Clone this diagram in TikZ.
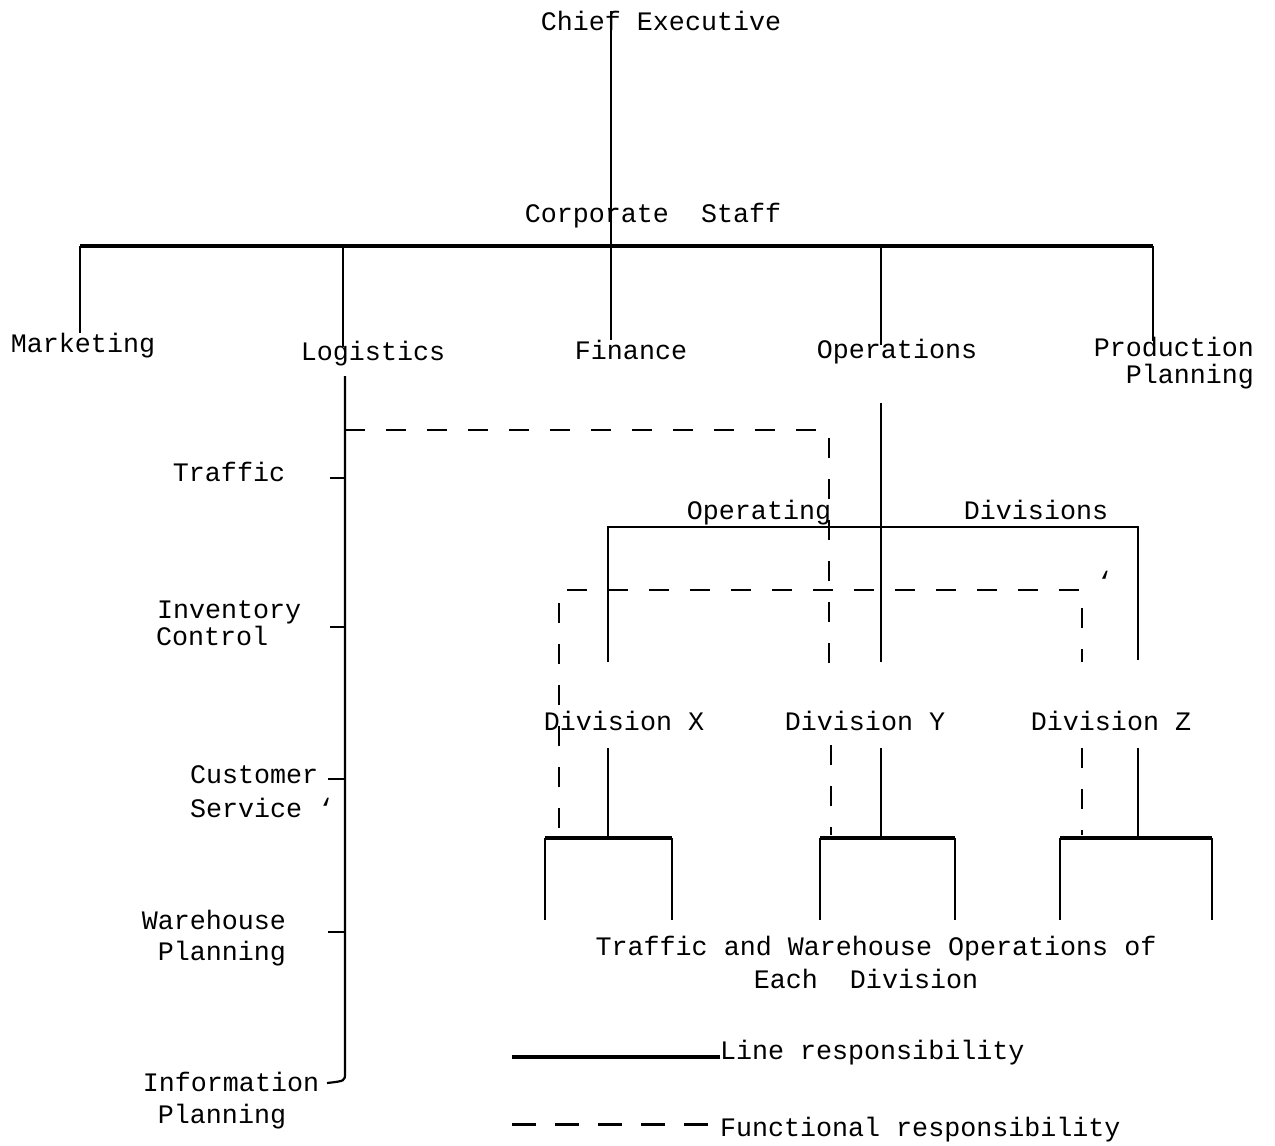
\documentclass[tikz,border=0pt]{standalone}
\usepackage{fontspec}
\setmainfont{Liberation Mono}
\newcommand{\gravemark}{\char"60\relax}
\begin{document}
\begin{tikzpicture}[x=1pt,y=-1pt,
  lbl/.style={inner sep=0pt, outer sep=0pt, anchor=base},
  lblw/.style={lbl, anchor=base west},
  lble/.style={lbl, anchor=base east},
  lineresp/.style={line width=2.2pt, line cap=butt},
  heavy/.style={line width=3.6pt},
  funcresp/.style={line width=2.4pt, dash pattern=on 20pt off 21pt},
  font=\fontsize{26.7}{32}\selectfont]
\useasboundingbox (0,0) rectangle (1275,1146);

% ---- labels ----
\node[lbl] (ce)   at (661,30)  {Chief Executive};
\node[lbl] (cs)   at (653,222) {Corporate\ \ Staff};
\node[lbl] (mkt)  at (83,352)  {Marketing};
\node[lbl] (log)  at (373,360) {Logistics};
\node[lbl] (fin)  at (631,359) {Finance};
\node[lbl] (ops)  at (897,358) {Operations};
\node[lble] (prodA) at (1254,356) {Production};
\node[lble] (prodB) at (1254,383) {Planning};

\node[lbl]  (traf)  at (229,481)  {Traffic};
\node[lblw] (invA)  at (157,618)  {Inventory};
\node[lblw] (invB)  at (156,645)  {Control};
\node[lblw] (cusA)  at (190,783)  {Customer};
\node[lblw] (cusB)  at (190,817)  {Service \gravemark};
\node[lble] (whA)   at (286,929)  {Warehouse};
\node[lble] (whB)   at (286,960)  {Planning};
\node[lbl]  (infA)  at (231,1091) {Information};
\node[lbl]  (infB)  at (222,1123) {Planning};

\node[lbl] (opdA) at (759,519)  {Operating};
\node[lbl] (opdB) at (1036,519) {Divisions};
\node[lbl] (mark) at (1105,590) {\gravemark};
\node[lbl] (divx) at (624,730)  {Division X};
\node[lbl] (divy) at (865,730)  {Division Y};
\node[lbl] (divz) at (1111,730) {Division Z};
\node[lbl] (twA)  at (876,955)  {Traffic and Warehouse Operations of};
\node[lbl] (twB)  at (866,988)  {Each\ \ Division};

\node[lblw] (legL) at (720,1059) {Line responsibility};
\node[lblw] (legF) at (720,1136) {Functional responsibility};

% ---- junction points ----
\coordinate (spine) at (611,246);
\coordinate (barL)  at (80,246);
\coordinate (barR)  at (1153,246);
\coordinate (jLog)  at (343,246);
\coordinate (jOps)  at (881,246);

% chief executive down through the corporate staff bar to finance
\draw[lineresp] (ce.north -| spine) -- (spine) -- (fin.north -| spine);
\draw[heavy] (barL) -- (barR);
\draw[lineresp] (barL) -- (barL |- mkt.north);
\draw[lineresp] (jLog) -- ([yshift=-6pt]jLog |- log.north);
\draw[lineresp] (jOps) -- ([yshift=-6pt]jOps |- ops.north);
\draw[lineresp] (barR) -- ([yshift=-4pt]barR |- prodA.north);

% logistics staff line with its sections
\coordinate (lgTop) at (345,376);
\coordinate (lgEnd) at (345,1073);
\coordinate (tTraf) at (330,478);
\coordinate (tInv)  at (330,627);
\coordinate (tCus)  at (328,779);
\coordinate (tWh)   at (328,932);
\coordinate (tInf)  at (327,1083);
\draw[lineresp] (lgTop) -- (lgEnd) .. controls (345,1081) .. (tInf);
\foreach \t in {tTraf,tInv,tCus,tWh}
  \draw[lineresp] (\t) -- (\t -| lgTop);

% operations line to the operating divisions
\coordinate (opTop) at (881,403);
\coordinate (opBot) at (881,662);
\draw[lineresp] (opTop) -- (opBot);
\coordinate (odL) at (608,527);
\coordinate (odR) at (1138,527);
\draw[line width=2.8pt] (608,662) -- (odL) -- (odR) -- (1138,660);

% divisions down to their traffic and warehouse operations
\foreach \x/\l/\r/\d in {608/545/672/divx, 881/820/955/divy, 1138/1060/1212/divz}{
  \draw[lineresp] (\x,748) -- (\x,838);
  \draw[heavy] (\l,838) -- (\r,838);
  \draw[lineresp] (\l,838) -- (\l,920);
  \draw[lineresp] (\r,838) -- (\r,920);
}

% functional responsibility lines
\draw[funcresp] (lgTop |- 0,430) -- (829,430) -- (829,665);
\draw[funcresp] (831,745) -- (831,835);
\draw[funcresp] (559,828) -- (559,590) -- (1082,590) -- (1082,662);
\draw[funcresp] (1082,748) -- (1082,835);

% legend
\coordinate (lgA) at (512,1057);
\coordinate (lgB) at (512,1124);
\draw[heavy] (lgA) -- (legL.west |- lgA);
\draw[line width=3pt, dash pattern=on 24pt off 19pt] (lgB) -- ([xshift=-2pt]legF.west |- lgB);
\end{tikzpicture}
\end{document}
